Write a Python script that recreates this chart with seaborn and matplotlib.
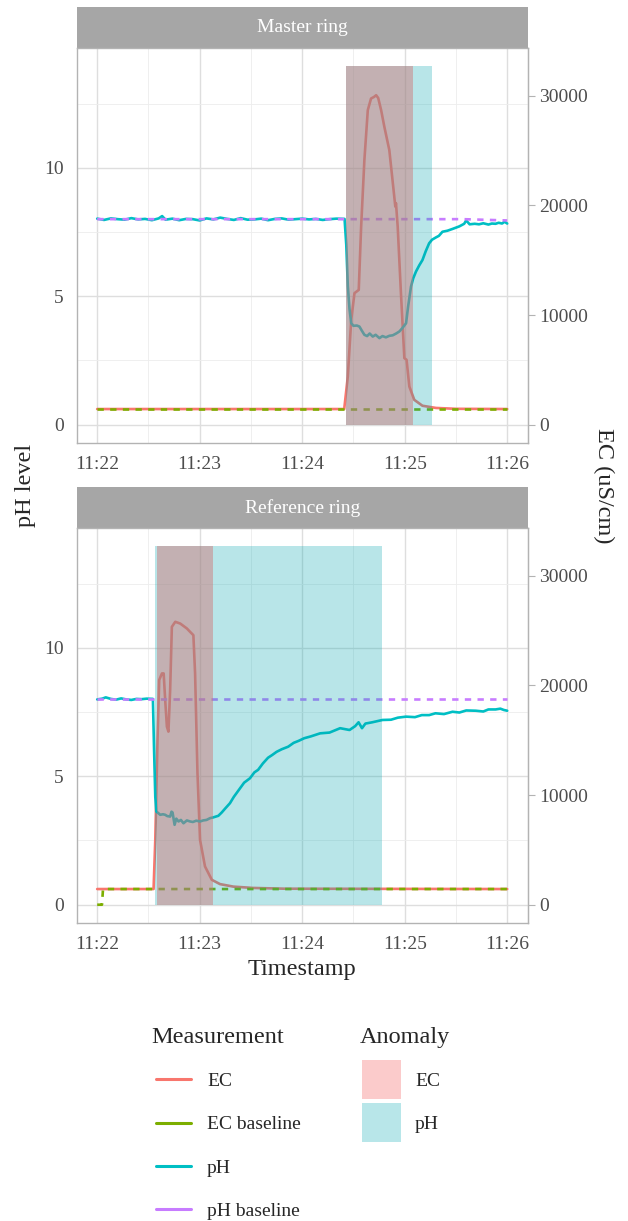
import matplotlib.pyplot as plt
import pandas as pd
import seaborn as sns
from matplotlib.legend_handler import HandlerPatch
from matplotlib.lines import Line2D
from matplotlib.patches import Patch, Rectangle
from matplotlib.ticker import FixedLocator

W, H = 628, 1221
EC_PER_PH = 2344  # EC units per pH unit on the shared axis

MEASUREMENTS = ["EC", "EC baseline", "pH", "pH baseline"]
LINE_COLORS = ["#F8766D", "#7CAE00", "#00BFC4", "#C77CFF"]
ANOMALIES = ["EC", "pH"]
PANELS = ["Master ring", "Reference ring"]

X_TICKS = [0, 60, 120, 180, 240]
X_TICK_LABELS = ["11:22", "11:23", "11:24", "11:25", "11:26"]
PH_TICKS = [0, 5, 10]
EC_TICKS = [0, 10000, 20000, 30000]
EC_TICK_LABELS = ["0", "10000", "20000", "30000"]
RECT_TOP = 13.95

# --- Master ring (time in seconds after 11:22:00) ---
master_ph_t = [0, 4, 8, 12, 16, 20, 24, 28, 32, 36, 38, 40, 44, 48, 52, 56, 60, 64, 68, 72,
               76, 80, 84, 88, 92, 96, 100, 104, 108, 112, 116, 120, 124, 128, 132, 136, 140, 144.8,
               145.8, 146.7, 147.7, 148.7, 150, 152, 153.5, 155, 156.4, 158, 159.5, 161.3, 163, 165.2,
               167, 169, 171, 173, 175, 176.9, 178.5, 180.8, 182, 183.7, 185, 186.6, 188.5, 190.4,
               192.3, 194.3, 196, 198.3, 200, 202.1, 205, 208, 210, 212, 214.8, 216, 218, 221, 223.5,
               226, 229, 231, 233.2, 235, 237, 238.5, 240]
master_ph = [8.02, 7.97, 8.03, 8.00, 7.98, 8.04, 7.99, 8.01, 7.96, 8.03, 8.12, 7.98, 8.02, 7.96,
             8.01, 8.00, 7.95, 8.03, 7.99, 8.06, 8.01, 7.97, 8.04, 7.98, 7.99, 8.02, 7.96, 8.01,
             8.03, 7.98, 8.00, 8.02, 7.99, 8.01, 7.97, 8.00, 8.02, 8.01,
             7.0, 5.4, 4.5, 3.95, 3.85, 3.86, 3.82, 3.65, 3.50, 3.45, 3.55, 3.43, 3.50, 3.37,
             3.45, 3.40, 3.46, 3.48, 3.55, 3.63, 3.75, 3.95, 4.60, 5.38, 5.70, 5.96, 6.20, 6.41,
             6.75, 7.06, 7.20, 7.29, 7.35, 7.51, 7.55, 7.62, 7.67, 7.72, 7.82, 7.95, 7.80, 7.82,
             7.80, 7.84, 7.79, 7.83, 7.82, 7.86, 7.83, 7.90, 7.83]
master_ec_t = [0, 144.6, 146.7, 148.7, 150.6, 153.1, 154.5, 156.4, 158.4, 160.3, 162, 163.3, 164.5,
               166.2, 168.1, 171, 173.9, 174.5, 174.9, 175.9, 177.8, 179.8, 181.1, 182.7, 185.6,
               190.4, 198.3, 210, 240]
master_ec = [1430, 1430, 4400, 9560, 12000, 12300, 18070, 24140, 28700, 29760, 29900, 30060, 29800,
             28700, 27170, 25050, 20800, 19900, 20200, 18070, 12000, 6075, 5920, 3490, 2270,
             1730, 1530, 1450, 1430]
master_ecb_t = [0, 240]
master_ecb = [1430, 1430]
master_phb_t = [0, 214, 240]
master_phb = [8.0, 8.0, 7.95]
master_anom_start = [145.8, 145.8]
master_anom_end = [185.0, 195.7]

# --- Reference ring ---
ref_ph_t = [0, 3, 5, 8, 11, 14, 17, 20, 23, 26, 29, 32.6,
            33.3, 34.0, 34.6, 36.9, 38.5, 39.8, 41, 42.7, 43.5, 44.1, 45.3, 46.3, 47.6, 49, 50.5,
            52.5, 54.4, 56, 58, 60.2, 62, 64, 66.1, 68, 70.9, 72.9, 75, 77.7, 80, 83.6, 86, 89.4,
            92, 94.2, 97, 100, 102.5, 105, 108, 111.8, 115, 118, 121.2, 125, 130.5, 136, 142.2,
            147.7, 151, 153, 155, 157, 161, 167, 172, 176, 180.8, 186, 190, 194.3, 198, 203, 208,
            212, 216, 221.6, 226, 229, 233.2, 236, 238, 240]
ref_ph = [7.99, 8.02, 8.07, 8.01, 7.98, 8.03, 7.99, 7.97, 8.01, 8.00, 8.02, 8.01,
          6.0, 4.2, 3.63, 3.50, 3.52, 3.50, 3.45, 3.43, 3.62, 3.59, 3.11, 3.35, 3.24, 3.30, 3.17,
          3.28, 3.24, 3.22, 3.27, 3.24, 3.28, 3.30, 3.37, 3.40, 3.46, 3.59, 3.75, 3.95, 4.20, 4.53,
          4.75, 4.92, 5.15, 5.25, 5.50, 5.72, 5.83, 5.95, 6.05, 6.15, 6.30, 6.38, 6.48, 6.55, 6.67,
          6.70, 6.87, 6.80, 6.95, 7.10, 6.87, 7.05, 7.10, 7.19, 7.20, 7.28, 7.32, 7.30, 7.38, 7.38,
          7.45, 7.42, 7.51, 7.48, 7.56, 7.55, 7.52, 7.60, 7.60, 7.63, 7.58, 7.55]
ref_ec_t = [0, 33.0, 34.0, 35.3, 36.3, 37.9, 38.9, 39.8, 40.8, 41.7, 42.7, 43.7, 45.7, 48.6, 52.5,
            54.4, 56.3, 57.3, 58.7, 60.2, 63.1, 67.1, 71.9, 79.7, 91.3, 110, 240]
ref_ec = [1430, 1430, 5920, 15030, 20500, 21100, 21100, 18680, 16240, 15790, 19590, 25350, 25810,
          25650, 25200, 24890, 24590, 21100, 12000, 5920, 3490, 2270, 1880, 1650, 1530, 1460, 1430]
ref_ecb_t = [0, 2.8, 3.4, 240]
ref_ecb = [0, 0, 1430, 1430]
ref_phb_t = [0, 240]
ref_phb = [8.0, 8.0]
ref_anom_start = [35.0, 33.8]
ref_anom_end = [67.6, 166.8]

sns.set_style("white")
plt.rcParams["font.family"] = ["Liberation Serif", "DejaVu Serif"]

PALETTE = dict(zip(MEASUREMENTS, LINE_COLORS))
DASHES = {"EC": "", "EC baseline": (2.4, 2.4), "pH": "", "pH baseline": (2.4, 2.4)}
RECT_FILL = {"EC": (208 / 255, 118 / 255, 118 / 255), "pH": (0, 165 / 255, 175 / 255)}
RECT_ALPHA = {"EC": 0.47, "pH": 0.28}
LEGEND_FILL = {"EC": "#FBCBCB", "pH": "#B8E6E9"}
GREY70 = "#B3B3B3"


class SquareKey(HandlerPatch):
    # legend key taller than the text row, centred on it
    def create_artists(self, legend, orig_handle, xdescent, ydescent, width, height, fontsize, trans):
        side = 2.0 * fontsize
        cy = height / 2 - ydescent
        rect = Rectangle((-xdescent, cy - side / 2), width, side,
                         facecolor=orig_handle.get_facecolor(), edgecolor="none", transform=trans)
        return [rect]


def long_frame(ec_t, ec, ecb_t, ecb, ph_t, ph, phb_t, phb):
    parts = [
        pd.DataFrame({"time": ec_t, "value": [v / EC_PER_PH for v in ec], "measurement": "EC"}),
        pd.DataFrame({"time": ecb_t, "value": [v / EC_PER_PH for v in ecb], "measurement": "EC baseline"}),
        pd.DataFrame({"time": ph_t, "value": ph, "measurement": "pH"}),
        pd.DataFrame({"time": phb_t, "value": phb, "measurement": "pH baseline"}),
    ]
    return pd.concat(parts, ignore_index=True)


def px_axes(fig, x0, y0, x1, y1):
    return fig.add_axes([x0 / W, 1 - y1 / H, (x1 - x0) / W, (y1 - y0) / H])


def draw_panel(fig, df, starts, ends, title, top):
    strip = px_axes(fig, 76.7, top, 527.7, top + 41)
    strip.set_facecolor("#A6A6A6")
    strip.set_xticks([])
    strip.set_yticks([])
    for s in strip.spines.values():
        s.set_visible(False)
    strip.text(0.5, 0.5, title, color="white", fontsize=14, ha="center", va="center",
               transform=strip.transAxes)

    ax = px_axes(fig, 76.7, top + 41, 527.7, top + 435.4)
    sns.lineplot(data=df, x="time", y="value", hue="measurement", hue_order=MEASUREMENTS,
                 palette=PALETTE, style="measurement", style_order=MEASUREMENTS, dashes=DASHES,
                 estimator=None, sort=False, linewidth=1.9, legend=False, ax=ax, zorder=2)

    # anomaly windows, pH first so the EC window sits on top
    for kind in ["pH", "EC"]:
        i = ANOMALIES.index(kind)
        ax.fill_between([starts[i], ends[i]], 0, RECT_TOP, color=RECT_FILL[kind],
                        alpha=RECT_ALPHA[kind], lw=0, zorder=3)

    ax.set_xlim(-12, 252)
    ax.set_ylim(-0.7, 14.65)
    ax.set_xticks(X_TICKS)
    ax.set_xticklabels(X_TICK_LABELS)
    ax.set_yticks(PH_TICKS)
    ax.xaxis.set_minor_locator(FixedLocator([30, 90, 150, 210]))
    ax.yaxis.set_minor_locator(FixedLocator([2.5, 7.5, 12.5]))
    ax.set_axisbelow(True)
    ax.grid(which="major", color="#DEDEDE", lw=1.0)
    ax.grid(which="minor", color="#EDEDED", lw=0.6)
    ax.tick_params(which="major", length=5, width=0.8, color=GREY70, labelcolor="#4D4D4D",
                   labelsize=14)
    ax.tick_params(axis="x", pad=4.5)
    ax.tick_params(axis="y", pad=4.5)
    ax.tick_params(which="minor", length=0)
    ax.set_xlabel("")
    ax.set_ylabel("")
    for s in ax.spines.values():
        s.set_color(GREY70)
        s.set_linewidth(1.0)

    sec = ax.secondary_yaxis("right", functions=(lambda v: v * EC_PER_PH, lambda e: e / EC_PER_PH))
    sec.set_yticks(EC_TICKS)
    sec.set_yticklabels(EC_TICK_LABELS)
    sec.tick_params(length=5, width=0.8, color=GREY70, labelcolor="#4D4D4D", labelsize=14, pad=3.5)
    sec.spines["right"].set_color(GREY70)
    return ax


fig = plt.figure(figsize=(W / 100, H / 100), dpi=100)

master_df = long_frame(master_ec_t, master_ec, master_ecb_t, master_ecb,
                       master_ph_t, master_ph, master_phb_t, master_phb)
ref_df = long_frame(ref_ec_t, ref_ec, ref_ecb_t, ref_ecb, ref_ph_t, ref_ph, ref_phb_t, ref_phb)

draw_panel(fig, master_df, master_anom_start, master_anom_end, PANELS[0], 7.3)
draw_panel(fig, ref_df, ref_anom_start, ref_anom_end, PANELS[1], 487.3)

fig.text(26 / W, 1 - 485.5 / H, "pH level", rotation=90, fontsize=17.5, ha="center", va="center")
fig.text(604 / W, 1 - 485.5 / H, "EC (uS/cm)", rotation=270, fontsize=17.5, ha="center", va="center")
fig.text(302 / W, 1 - 970 / H, "Timestamp", fontsize=17.5, ha="center", va="center")

# legend titles placed on their own, entries below
fig.text(151.7 / W, 1 - 1043.3 / H, "Measurement", fontsize=17.5, ha="left", va="baseline")
fig.text(360 / W, 1 - 1043.3 / H, "Anomaly", fontsize=17.5, ha="left", va="baseline")

line_handles = [Line2D([0], [0], color=c, lw=2.2) for c in LINE_COLORS]
fig.legend(line_handles, MEASUREMENTS, loc="center left",
           bbox_to_anchor=(156 / W, 1 - 1146.3 / H), frameon=False, fontsize=14,
           handlelength=1.8, handletextpad=0.82, labelspacing=1.32,
           borderpad=0, borderaxespad=0)

patch_handles = [Patch(facecolor=LEGEND_FILL[k], edgecolor="none") for k in ANOMALIES]
fig.legend(patch_handles, ANOMALIES, loc="center left",
           bbox_to_anchor=(361.7 / W, 1 - 1103 / H), frameon=False, fontsize=14,
           handlelength=2.02, handletextpad=0.72, labelspacing=1.32,
           borderpad=0, borderaxespad=0, handler_map={Patch: SquareKey()})

fig.savefig("out.png", dpi=100)
